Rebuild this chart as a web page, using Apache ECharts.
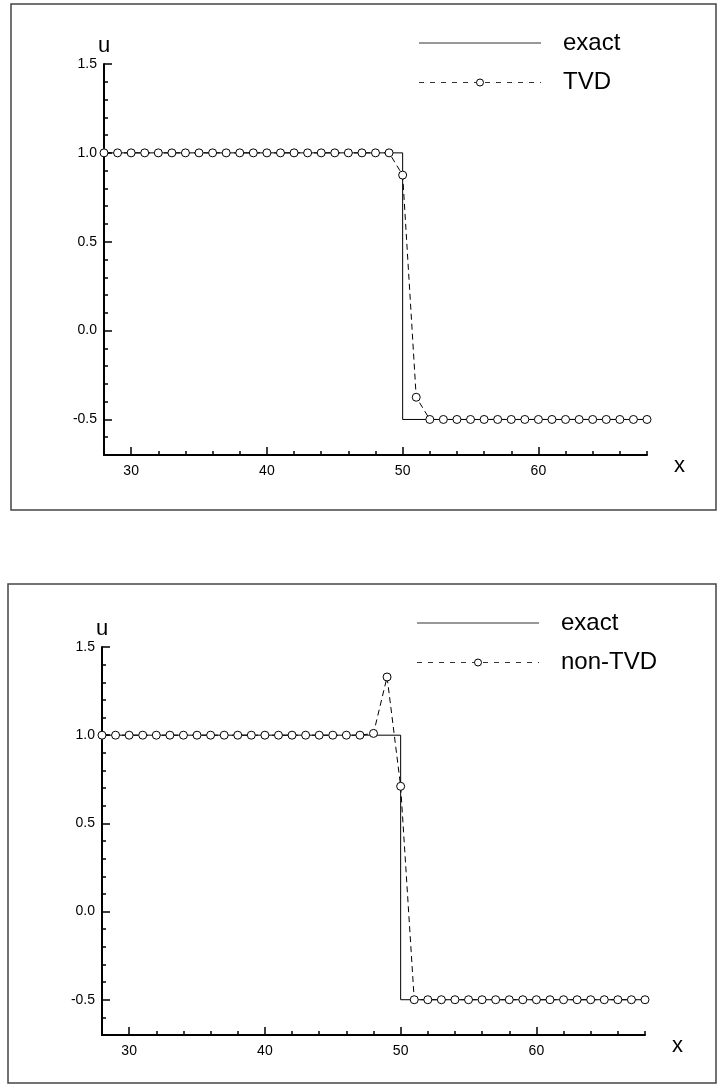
<!DOCTYPE html>
<html>
<head>
<meta charset="utf-8">
<script src="https://cdn.jsdelivr.net/npm/echarts@6/dist/echarts.min.js"></script>
<style>
html, body { margin: 0; padding: 0; background: #fff; }
#main { width: 720px; height: 1086px; }
</style>
</head>
<body>
<div id="main"></div>
<script>
// grid points of the numerical solution
var xGrid = [28, 29, 30, 31, 32, 33, 34, 35, 36, 37, 38, 39, 40, 41, 42, 43, 44, 45, 46, 47, 48,
	49, 50, 51, 52, 53, 54, 55, 56, 57, 58, 59, 60, 61, 62, 63, 64, 65, 66, 67, 68];

// exact step solution
var exactX = [28, 50, 50, 68];
var exactU = [1.0, 1.0, -0.5, -0.5];

// TVD scheme (top panel)
var tvdU = [1.0, 1.0, 1.0, 1.0, 1.0, 1.0, 1.0, 1.0, 1.0, 1.0, 1.0, 1.0, 1.0, 1.0, 1.0, 1.0, 1.0, 1.0, 1.0, 1.0, 1.0,
	1.0, 0.875, -0.375, -0.5, -0.5, -0.5, -0.5, -0.5, -0.5, -0.5, -0.5, -0.5, -0.5, -0.5, -0.5, -0.5, -0.5, -0.5, -0.5, -0.5];

// non-TVD scheme (bottom panel)
var nonTvdU = [1.0, 1.0, 1.0, 1.0, 1.0, 1.0, 1.0, 1.0, 1.0, 1.0, 1.0, 1.0, 1.0, 1.0, 1.0, 1.0, 1.0, 1.0, 1.0, 1.0, 1.01,
	1.33, 0.71, -0.5, -0.5, -0.5, -0.5, -0.5, -0.5, -0.5, -0.5, -0.5, -0.5, -0.5, -0.5, -0.5, -0.5, -0.5, -0.5, -0.5, -0.5];

// ticks
var xMajorTicks = [30, 40, 50, 60];
var xMinorTicks = [32, 34, 36, 38, 42, 44, 46, 48, 52, 54, 56, 58, 62, 64, 66, 68];
var uMajorTicks = [-0.5, 0.0, 0.5, 1.0, 1.5];
var uMinorTicks = [-0.6, -0.4, -0.3, -0.2, -0.1, 0.1, 0.2, 0.3, 0.4, 0.6, 0.7, 0.8, 0.9, 1.1, 1.2, 1.3, 1.4];

var panelNames = [ [ 'exact', 'TVD' ], [ 'exact', 'non-TVD' ] ];

var FONT = 'Liberation Sans, Arial, sans-serif';

function zip(xs, ys) {
	var out = [];
	for (var i = 0; i < xs.length; i++) {
		out.push([ xs[i], ys[i] ]);
	}
	return out;
}

function majorX(g) {
	return {
		type : 'value',
		gridIndex : g,
		position : 'bottom',
		min : 28,
		max : 68,
		name : 'x',
		nameLocation : 'end',
		nameGap : 27,
		nameTextStyle : { color : '#000', fontSize : 22, fontFamily : FONT, verticalAlign : 'top' },
		axisLine : { show : true, onZero : false, lineStyle : { color : '#000', width : 2 } },
		axisTick : { show : true, inside : true, length : 8, customValues : xMajorTicks,
			lineStyle : { color : '#000', width : 1.5 } },
		axisLabel : { show : true, customValues : xMajorTicks, margin : 9, color : '#000',
			fontSize : 14, fontFamily : FONT },
		splitLine : { show : false }
	};
}

function minorX(g) {
	return {
		type : 'value',
		gridIndex : g,
		position : 'bottom',
		offset : 0,
		min : 28,
		max : 68,
		axisLine : { show : false, onZero : false },
		axisTick : { show : true, inside : true, length : 4, customValues : xMinorTicks,
			lineStyle : { color : '#000', width : 1.5 } },
		axisLabel : { show : false },
		splitLine : { show : false }
	};
}

function majorY(g) {
	return {
		type : 'value',
		gridIndex : g,
		position : 'left',
		min : -0.7,
		max : 1.5,
		name : 'u',
		nameLocation : 'end',
		nameGap : 6,
		nameTextStyle : { color : '#000', fontSize : 22, fontFamily : FONT },
		axisLine : { show : true, onZero : false, lineStyle : { color : '#000', width : 2 } },
		axisTick : { show : true, inside : true, length : 8, customValues : uMajorTicks,
			lineStyle : { color : '#000', width : 1.5 } },
		axisLabel : { show : true, customValues : uMajorTicks, margin : 7, color : '#000',
			fontSize : 14, fontFamily : FONT,
			formatter : function(v) { return v.toFixed(1); } },
		splitLine : { show : false }
	};
}

function minorY(g) {
	return {
		type : 'value',
		gridIndex : g,
		position : 'left',
		offset : 0,
		min : -0.7,
		max : 1.5,
		axisLine : { show : false, onZero : false },
		axisTick : { show : true, inside : true, length : 4, customValues : uMinorTicks,
			lineStyle : { color : '#000', width : 1.5 } },
		axisLabel : { show : false },
		splitLine : { show : false }
	};
}

function exactSeries(g) {
	return {
		name : 'exact',
		type : 'line',
		xAxisIndex : g * 2,
		yAxisIndex : g * 2,
		data : zip(exactX, exactU),
		symbol : 'none',
		silent : true,
		lineStyle : { color : '#000', width : 1 },
		z : 2
	};
}

function schemeSeries(g, name, values) {
	return {
		name : name,
		type : 'line',
		xAxisIndex : g * 2,
		yAxisIndex : g * 2,
		data : zip(xGrid, values),
		symbol : 'circle',
		symbolSize : 8,
		silent : true,
		itemStyle : { color : '#fff', borderColor : '#000', borderWidth : 1 },
		lineStyle : { color : '#000', width : 1, type : [ 6, 4 ] },
		z : 3
	};
}

// hand drawn legend + frame of one panel
function panelGraphics(box, legendLeft, legendTop, names) {
	var lineEnd = legendLeft + 122;
	var mid = legendLeft + 61;
	var y1 = legendTop, y2 = legendTop + 39.5;
	return [ {
		type : 'rect',
		shape : box,
		style : { fill : 'none', stroke : '#444', lineWidth : 1.5 },
		silent : true
	}, {
		type : 'line',
		shape : { x1 : legendLeft, y1 : y1, x2 : lineEnd, y2 : y1 },
		style : { stroke : '#333', lineWidth : 1 }
	}, {
		type : 'line',
		shape : { x1 : legendLeft, y1 : y2, x2 : lineEnd, y2 : y2 },
		style : { stroke : '#333', lineWidth : 1, lineDash : [ 5, 6 ] }
	}, {
		type : 'circle',
		shape : { cx : mid, cy : y2, r : 3.5 },
		style : { fill : '#fff', stroke : '#000', lineWidth : 1 }
	}, {
		type : 'text',
		x : lineEnd + 22,
		y : y1,
		style : { text : names[0], fill : '#000', font : '24px ' + FONT, verticalAlign : 'middle' }
	}, {
		type : 'text',
		x : lineEnd + 22,
		y : y2,
		style : { text : names[1], fill : '#000', font : '24px ' + FONT, verticalAlign : 'middle' }
	} ];
}

var option = {
	animation : false,
	backgroundColor : '#fff',
	grid : [ { left : 104, top : 64, width : 543, height : 391 },
		{ left : 102, top : 647, width : 543, height : 388 } ],
	xAxis : [ majorX(0), minorX(0), majorX(1), minorX(1) ],
	yAxis : [ majorY(0), minorY(0), majorY(1), minorY(1) ],
	series : [ exactSeries(0), schemeSeries(0, 'TVD', tvdU),
		exactSeries(1), schemeSeries(1, 'non-TVD', nonTvdU) ],
	graphic : panelGraphics({ x : 11, y : 4, width : 705, height : 506 }, 419, 43, panelNames[0])
		.concat(panelGraphics({ x : 8, y : 584, width : 708, height : 499 }, 417, 623, panelNames[1]))
};

var myChart = echarts.init(document.getElementById('main'), null, { renderer : 'canvas' });
myChart.setOption(option, true);
</script>
</body>
</html>
